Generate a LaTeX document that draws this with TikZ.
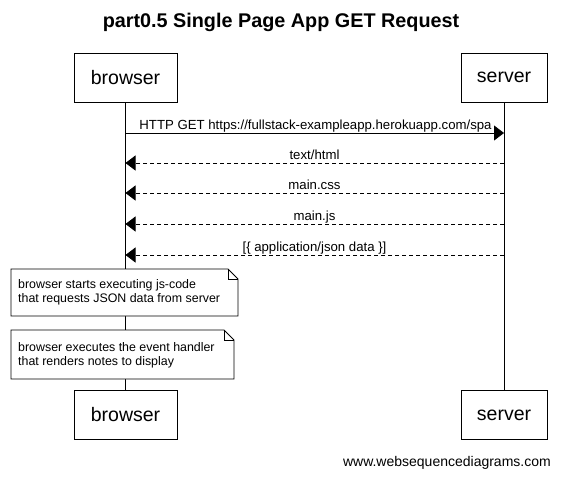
\documentclass[tikz,border=0pt]{standalone}
\usepackage{fontspec}
\setmainfont{Liberation Sans}
\usetikzlibrary{arrows.meta}
\begin{document}
\begin{tikzpicture}[x=1pt,y=-1pt,
  actor/.style={draw,line width=0.8pt,fill=white,minimum width=103pt,minimum height=49pt,font=\fontsize{19.5}{22}\selectfont,inner sep=0pt},
  actorsrv/.style={actor,minimum width=86pt},
  msg/.style={font=\fontsize{13.2}{15}\selectfont,inner sep=1pt,anchor=base},
  life/.style={line width=0.8pt},
  req/.style={line width=0.8pt,-{Triangle[length=10pt,width=15pt]}},
  resp/.style={req,dash pattern=on 4pt off 3pt},
  notebox/.style={line width=0.8pt,fill=white},
  notetext/.style={font=\fontsize{12.4}{14.5}\selectfont,align=left,anchor=north west,inner sep=0pt}
]
\useasboundingbox (0,0) rectangle (561,476);
\node[font=\bfseries\fontsize{19.8}{23}\selectfont] (title) at (281,22) {part0.5 Single Page App GET Request};
\node[actor] (bt) at (125.5,77.5) {browser};
\node[actorsrv] (st) at (504,77.5) {server};
\node[actor] (bb) at (125.5,415) {browser};
\node[actorsrv] (sb) at (504,415) {server};
\draw[life] (bt.south) -- (bb.north);
\draw[life] (st.south) -- (sb.north);
% messages
\coordinate (b1) at (125.5,133); \coordinate (s1) at (504,133);
\coordinate (b2) at (125.5,163); \coordinate (s2) at (504,163);
\coordinate (b3) at (125.5,193); \coordinate (s3) at (504,193);
\coordinate (b4) at (125.5,224); \coordinate (s4) at (504,224);
\coordinate (b5) at (125.5,255); \coordinate (s5) at (504,255);
\draw[req] (b1) -- (s1);
\node[msg] (l1) at (315.5,129) {HTTP GET https://fullstack-exampleapp.herokuapp.com/spa};
\draw[resp] (s2) -- (b2);
\node[msg] (l2) at (314.5,159) {text/html};
\draw[resp] (s3) -- (b3);
\node[msg] (l3) at (314.5,189) {main.css};
\draw[resp] (s4) -- (b4);
\node[msg] (l4) at (314.5,220) {main.js};
\draw[resp] (s5) -- (b5);
\node[msg] (l5) at (314.5,251) {[\{ application/json data \}]};
% notes
\draw[notebox] (11,269) -- (228,269) -- (238,279) -- (238,316) -- (11,316) -- cycle;
\draw[line width=0.6pt] (228,269) -- (228,279) -- (238,279);
\node[notetext] (n1) at (18,279) {browser starts executing js-code\\that requests JSON data from server};
\draw[notebox] (11,330) -- (224,330) -- (234,340) -- (234,379) -- (11,379) -- cycle;
\draw[line width=0.6pt] (224,330) -- (224,340) -- (234,340);
\node[notetext] (n2) at (18,342) {browser executes the event handler\\that renders notes to display};
\node[font=\fontsize{14}{16}\selectfont,anchor=base east,inner sep=0pt] (foot) at (551,466) {www.websequencediagrams.com};
\end{tikzpicture}
\end{document}
